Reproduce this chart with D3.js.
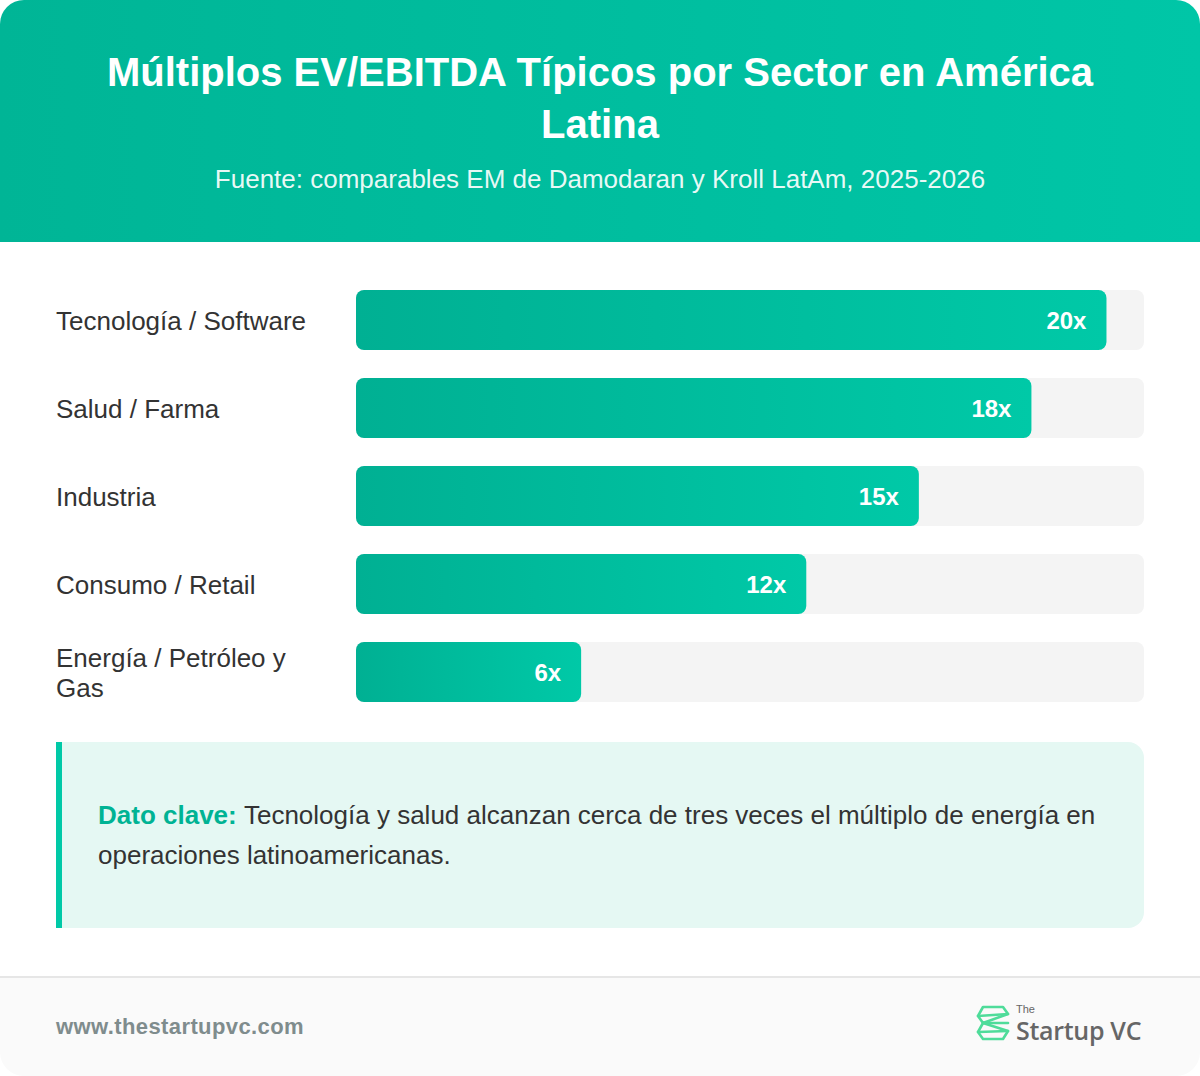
<!DOCTYPE html>
<html><head><meta charset="utf-8">
<script src="https://cdn.jsdelivr.net/npm/d3@7"></script>
<style>
html,body{margin:0;padding:0;background:#ffffff;}
svg{display:block;font-family:"Liberation Sans",Arial,Helvetica,sans-serif;}
</style></head>
<body>
<svg id="chart" width="1200" height="1076"></svg>
<script>
const titleLines = ["Múltiplos EV/EBITDA Típicos por Sector en América", "Latina"];
const subtitle = "Fuente: comparables EM de Damodaran y Kroll LatAm, 2025-2026";
const categories = ["Tecnología / Software", "Salud / Farma", "Industria", "Consumo / Retail", "Energía / Petróleo y Gas"];
const values = [20, 18, 15, 12, 6];
const valueLabels = ["20x", "18x", "15x", "12x", "6x"];
const insightLead = "Dato clave:";
const insightText = "Tecnología y salud alcanzan cerca de tres veces el múltiplo de energía en operaciones latinoamericanas.";
const footerUrl = "www.thestartupvc.com";

const W = 1200, H = 1076;
const svg = d3.select("#chart");
const defs = svg.append("defs");

defs.append("clipPath").attr("id","card").append("rect")
  .attr("x",0).attr("y",0).attr("width",W).attr("height",H).attr("rx",24);

const hg = defs.append("linearGradient").attr("id","hdr").attr("x1","0%").attr("x2","100%").attr("y1","0%").attr("y2","0%");
hg.append("stop").attr("offset","0%").attr("stop-color","#00b596");
hg.append("stop").attr("offset","100%").attr("stop-color","#00c6a7");

const bg = defs.append("linearGradient").attr("id","bar").attr("x1","0%").attr("x2","100%").attr("y1","0%").attr("y2","0%");
bg.append("stop").attr("offset","0%").attr("stop-color","#00b093");
bg.append("stop").attr("offset","100%").attr("stop-color","#00c9a7");

const card = svg.append("g").attr("clip-path","url(#card)");
card.append("rect").attr("width",W).attr("height",H).attr("fill","#ffffff");

// Header
card.append("rect").attr("x",0).attr("y",0).attr("width",W).attr("height",242).attr("fill","url(#hdr)");
const tt = card.append("text").attr("text-anchor","middle").attr("fill","#ffffff")
  .attr("font-size",40).attr("font-weight","bold");
titleLines.forEach((l,i)=>{
  tt.append("tspan").attr("x",W/2).attr("y",86+i*52).text(l);
});
card.append("text").attr("x",W/2).attr("y",188).attr("text-anchor","middle")
  .attr("fill","#ffffff").attr("fill-opacity",0.92).attr("font-size",26).text(subtitle);

// Scales
const x = d3.scaleLinear().domain([0, d3.max(values)*1.05]).range([356, 1144]);
const y = d3.scaleBand().domain(categories).range([290, 702]).paddingInner(28/88).paddingOuter(0);

const rows = card.append("g").selectAll("g").data(categories).join("g");

rows.append("rect").attr("x",x(0)).attr("y",d=>y(d)).attr("width",x.range()[1]-x(0))
  .attr("height",y.bandwidth()).attr("rx",8).attr("fill","#f4f4f4");

rows.append("rect").attr("x",x(0)).attr("y",d=>y(d))
  .attr("width",(d,i)=>x(values[i])-x(0)).attr("height",y.bandwidth()).attr("rx",8)
  .attr("fill","url(#bar)");

rows.append("text").attr("x",(d,i)=>x(values[i])-20).attr("y",d=>y(d)+y.bandwidth()/2+8.5)
  .attr("text-anchor","end").attr("fill","#ffffff").attr("font-weight","bold").attr("font-size",24)
  .text((d,i)=>valueLabels[i]);

// Category labels with wrapping
const ctx = document.createElement("canvas").getContext("2d");
ctx.font = '26px "Liberation Sans", Arial, sans-serif';
function wrap(str, maxW){
  const words = str.split(" "); const lines=[]; let cur="";
  words.forEach(w=>{
    const t = cur ? cur+" "+w : w;
    if (ctx.measureText(t).width > maxW && cur){ lines.push(cur); cur=w; } else cur=t;
  });
  if(cur) lines.push(cur);
  return lines;
}
rows.each(function(d){
  const lines = wrap(d, 268);
  const lh = 30;
  const cy = y(d)+y.bandwidth()/2;
  const t = d3.select(this).append("text").attr("fill","#333333").attr("font-size",26);
  lines.forEach((l,i)=>{
    t.append("tspan").attr("x",56).attr("y",cy + 9.5 + (i-(lines.length-1)/2)*lh).text(l);
  });
});

// Insight box
card.append("path")
  .attr("d", (()=>{const p=d3.path(); const x0=56,y0=742,x1=1144,y1=928,r=16;
    p.moveTo(x0,y0); p.lineTo(x1-r,y0); p.arcTo(x1,y0,x1,y0+r,r); p.lineTo(x1,y1-r);
    p.arcTo(x1,y1,x1-r,y1,r); p.lineTo(x0,y1); p.closePath(); return p.toString();})())
  .attr("fill","#e5f8f3");
card.append("rect").attr("x",56).attr("y",742).attr("width",6).attr("height",186).attr("fill","#00c9a7");

const ctx2 = document.createElement("canvas").getContext("2d");
ctx2.font = 'bold 26px "Liberation Sans", Arial, sans-serif';
const leadW = ctx2.measureText(insightLead+" ").width;
ctx2.font = '26px "Liberation Sans", Arial, sans-serif';
const words = insightText.split(" ");
const iLines=[]; let cur=""; let avail = 1004 - leadW;
words.forEach(w=>{
  const t = cur ? cur+" "+w : w;
  if (ctx2.measureText(t).width > avail && cur){ iLines.push(cur); cur=w; avail=1004; } else cur=t;
});
if(cur) iLines.push(cur);
const it = card.append("text").attr("font-size",26).attr("fill","#333333");
it.append("tspan").attr("x",98).attr("y",824).attr("font-weight","bold").attr("fill","#00b394").text(insightLead+" ");
it.append("tspan").text(iLines[0]);
iLines.slice(1).forEach((l,i)=>{
  it.append("tspan").attr("x",98).attr("y",824+40*(i+1)).text(l);
});

// Footer
card.append("rect").attr("x",0).attr("y",977).attr("width",W).attr("height",H-977).attr("fill","#fafafa");
card.append("rect").attr("x",0).attr("y",976).attr("width",W).attr("height",2).attr("fill","#e6e6e6");
card.append("text").attr("x",56).attr("y",1034).attr("font-size",22).attr("font-weight","bold")
  .attr("letter-spacing",0.4).attr("fill","#7f8c8d").text(footerUrl);

// Logo
const logo = card.append("g").attr("fill","none").attr("stroke","#4fdc9a").attr("stroke-width",2.6)
  .attr("stroke-linejoin","round").attr("stroke-linecap","round");
logo.append("path").attr("d","M983,1007 L1003,1007 L1008,1014 L983,1023 L978,1016 Z");
logo.append("path").attr("d","M978,1016 L1008,1014");
logo.append("path").attr("d","M983,1023 L1008,1031 L1003,1039 L983,1039 L978,1032 Z");
logo.append("path").attr("d","M978,1032 L1008,1031");
logo.append("path").attr("d","M983,1023 L1008,1023");
card.append("text").attr("x",1016).attr("y",1013).attr("font-size",11).attr("fill","#666666").text("The");
card.append("text").attr("x",1016).attr("y",1040).attr("font-size",25).attr("fill","#666666")
  .attr("font-family","'Open Sans', sans-serif").attr("font-weight","600").attr("letter-spacing",-0.3).text("Startup VC");
</script>
</body></html>
